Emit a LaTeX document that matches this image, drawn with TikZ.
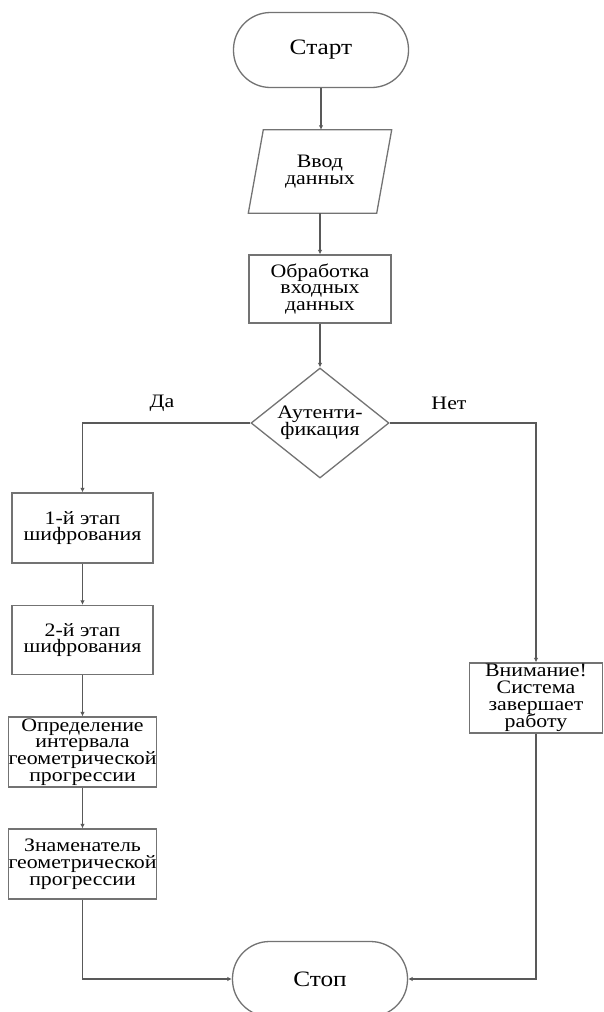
\documentclass[tikz,border=0pt]{standalone}
\usepackage{fontspec}
\setmainfont{Liberation Serif}[FakeStretch=1.15]
\usetikzlibrary{shapes.geometric,arrows.meta}
\newcommand\bxfnt{\fontsize{19}{16.8}\selectfont\lineskiplimit=-20pt\relax}
\newcommand\tmfnt{\fontsize{22}{18}\selectfont}
\begin{document}
\begin{tikzpicture}[x=1pt,y=-1pt,
  shp/.style={draw=black!55, line width=1.3pt},
  blk/.style={shp, fill=white, align=center, inner sep=0pt, font=\bxfnt,
              minimum width=141pt, minimum height=70pt},
  term/.style={shp, fill=white, rounded corners=37pt, inner sep=0pt, font=\tmfnt,
              minimum width=175pt, minimum height=75pt},
  conn/.style={draw=black!65, line width=1.3pt, -{Latex[length=4.5pt,width=4.5pt]}},
  lbl/.style={font=\bxfnt, inner sep=0pt}]
\useasboundingbox (0,0) rectangle (603,1012);
% nodes
\node[term] (start) at (321,50) {Старт};
\node[align=center, inner sep=0pt, font=\bxfnt, minimum width=128pt, minimum height=83pt] (in) at (320,171.5) {Ввод\\данных};
\draw[shp] ([xshift=7.5pt]in.north west) -- ([xshift=7.5pt]in.north east)
  -- ([xshift=-7.5pt]in.south east) -- ([xshift=-7.5pt]in.south west) -- cycle;
\node[blk, minimum width=142pt, minimum height=68pt] (proc) at (320,289) {Обработка\\входных\\данных};
\node[shp, diamond, fill=white, align=center, inner sep=0pt, font=\bxfnt,
      minimum width=138pt, minimum height=110pt, aspect=1.25] (auth) at (320,423) {Аутенти-\\фикация};
\node[blk] (s1) at (82.5,528) {1-й этап\\шифрования};
\node[blk, minimum height=69pt] (s2) at (82.5,640) {2-й этап\\шифрования};
\node[blk] (s3) at (82.5,752) {Определение\\интервала\\геометрической\\прогрессии};
\node[blk] (s4) at (82.5,864) {Знаменатель\\геометрической\\прогрессии};
\node[blk, minimum width=133pt] (warn) at (536,698) {Внимание!\\Система\\завершает\\работу};
\node[term] (stop) at (320,979) {Стоп};
% labels
\node[lbl] (yes) at (162,403) {Да};
\node[lbl] (no) at (449,403) {Нет};
% connectors
\draw[conn] (start.south) -- (start.south |- in.north);
\draw[conn] (in.south) -- (proc.north);
\draw[conn] (proc.south) -- (auth.north);
\draw[conn] (auth.west) -| (s1.north);
\draw[conn] (auth.east) -| (warn.north);
\draw[conn] (s1.south) -- (s2.north);
\draw[conn] (s2.south) -- (s3.north);
\draw[conn] (s3.south) -- (s4.north);
\draw[conn] (s4.south) |- (stop.west);
\draw[conn] (warn.south) |- (stop.east);
\end{tikzpicture}
\end{document}
